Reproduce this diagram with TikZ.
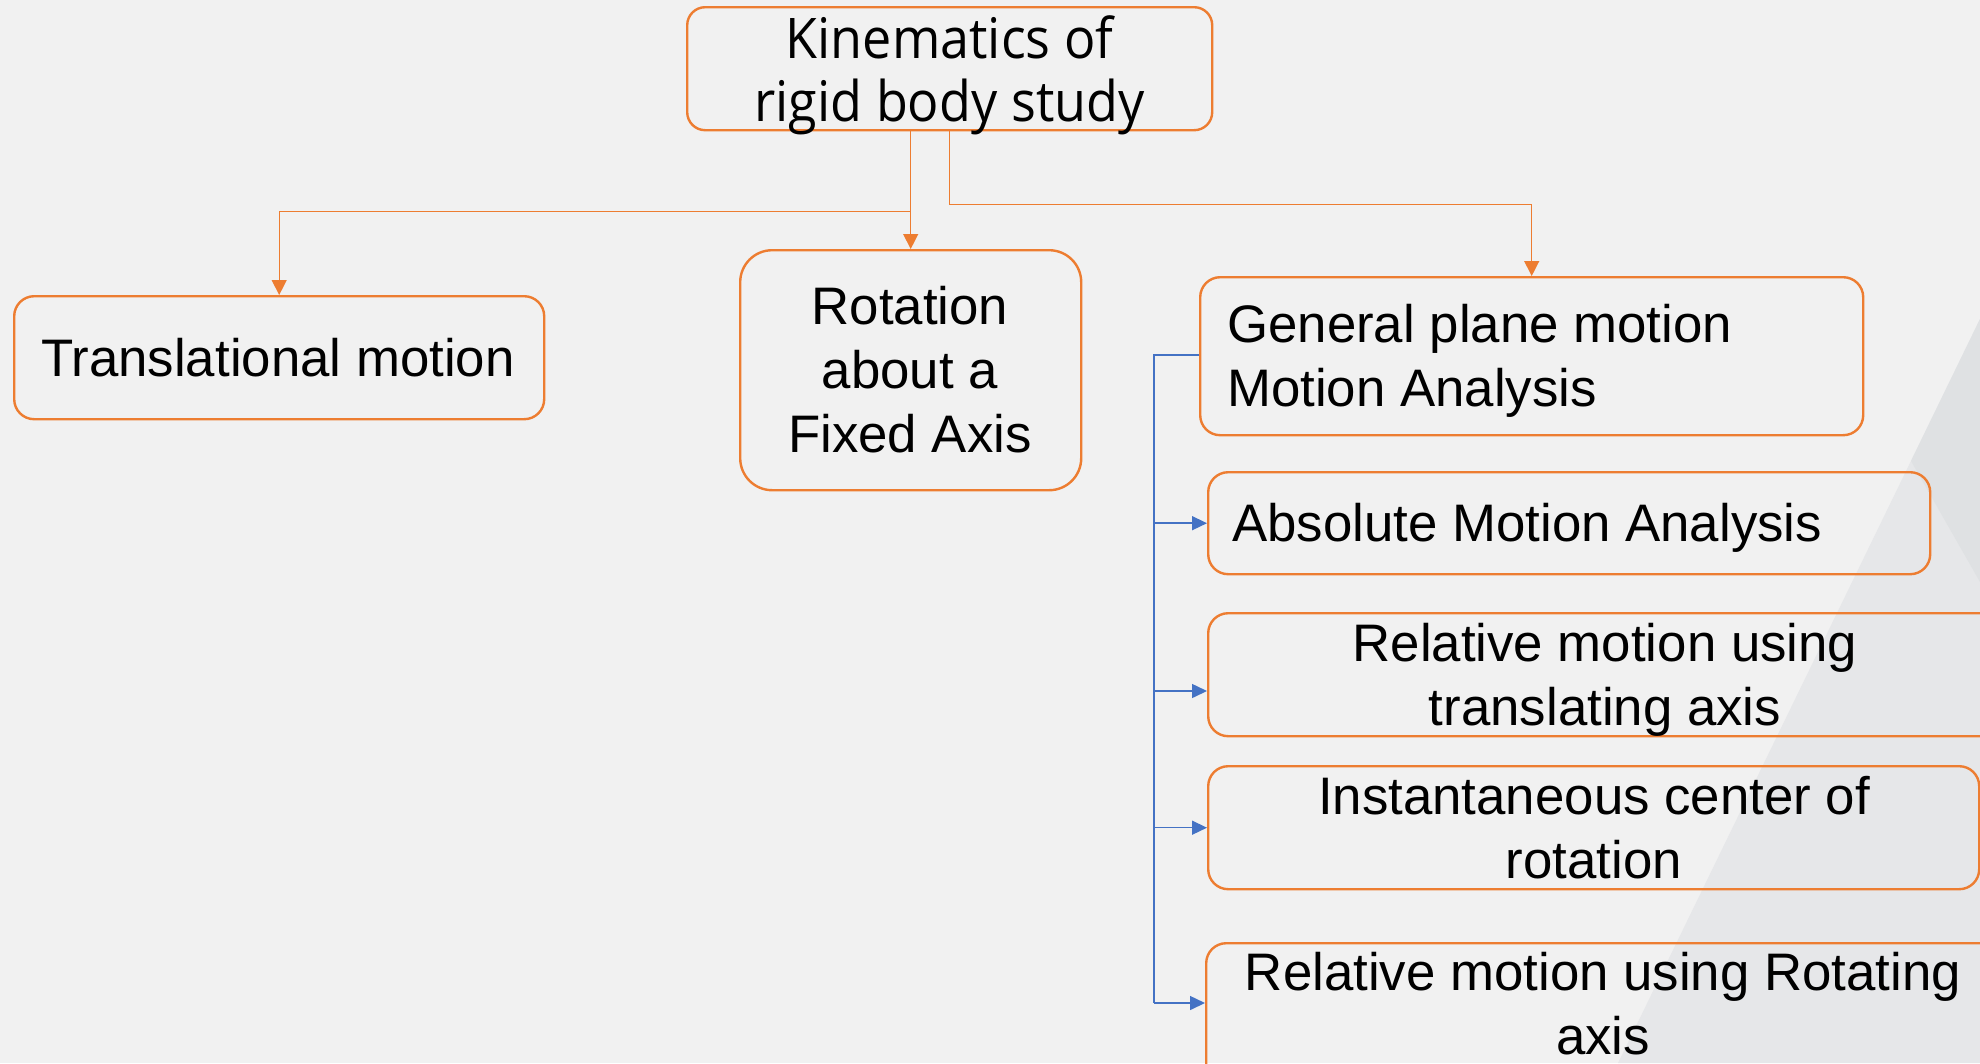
\documentclass[tikz,border=0pt]{standalone}
\usepackage{fontspec}
\setmainfont{Liberation Sans}
\newfontfamily\kinfont[FakeStretch=0.93]{Open Sans}
\usetikzlibrary{arrows.meta}
\definecolor{bg}{HTML}{F1F1F1}
\definecolor{triA}{HTML}{DFE1E3}
\definecolor{triB}{HTML}{E6E7E9}
\definecolor{org}{HTML}{ED7D31}
\definecolor{blu}{HTML}{4472C4}
\begin{document}
\begin{tikzpicture}[x=1pt,y=-1pt,
  box/.style={draw=org, line width=2.4pt, rounded corners=20pt, inner sep=0pt, anchor=north west},
  txt/.style={inner sep=0pt, align=center, font=\fontsize{52.8}{64}\selectfont},
  oline/.style={draw=org, line width=1.3pt},
  oarrow/.style={oline, -{Triangle[length=15pt,width=15pt]}},
  bline/.style={draw=blu, line width=1.5pt},
  barrow/.style={bline, -{Triangle[length=15pt,width=14pt]}}]
% background
\fill[bg] (0,0) rectangle (1980,1063);
\useasboundingbox (0,0) rectangle (1980,1063);
\fill[triB] (1980,319) -- (1618,1063) -- (1980,1063) -- cycle;
\fill[triA] (1980,319) -- (1911,461) -- (1980,582) -- cycle;
% boxes
\node[box, minimum width=525pt, minimum height=123pt, rounded corners=18pt] (top) at (686,6) {};
\node[box, minimum width=530pt, minimum height=123pt] (trans) at (13,295) {};
\node[box, minimum width=341pt, minimum height=240pt, rounded corners=32pt] (rot) at (739,249) {};
\node[box, minimum width=663pt, minimum height=158pt] (gp) at (1199,276) {};
\node[box, minimum width=722pt, minimum height=102pt] (abs) at (1207,471) {};
\node[box, minimum width=900pt, minimum height=123pt] (rtr) at (1207,612) {};
\node[box, minimum width=771pt, minimum height=123pt] (inst) at (1207,765) {};
\node[box, minimum width=900pt, minimum height=160pt] (rrot) at (1205,942) {};
% texts
\node[txt, font=\kinfont\fontsize{56}{63}\selectfont] (topt) at (949.5,75) {Kinematics of\\rigid body study};
\node[txt] (transt) at (278,357.5) {Translational motion};
\node[txt] (rott) at (910,370) {Rotation\\about a\\Fixed Axis};
\node[txt, align=left, anchor=west] (gpt) at (1227,361) {General plane motion\\Motion Analysis};
\node[txt, anchor=west] (abst) at (1232,528) {Absolute Motion Analysis};
\node[txt] (rtrt) at (1605,680) {Relative motion using\\translating axis};
\node[txt] (instt) at (1594,827.5) {Instantaneous center of\\rotation};
\node[txt] (rrott) at (1603,1004) {Relative motion using Rotating\\axis};
% orange connectors
\draw[oarrow] (top.south -| rot.north) -- (rot.north);
\draw[oarrow] (top.south -| rot.north) -- ++(0,80) -| (trans.north);
\draw[oarrow] (top.south) -- ++(0,73) -| (gp.north);
% blue connectors
\coordinate (bt) at (1154,355);
\coordinate (bb) at (1154,1003);
\coordinate (b2) at (1154,691);
\draw[bline] (bt -| gp.west) -- (bt) -- (bb);
\draw[barrow] (bt |- abs.west) -- (abs.west);
\draw[barrow] (b2) -- (b2 -| rtr.west);
\draw[barrow] (bt |- inst.west) -- (inst.west);
\draw[barrow] (bb) -- (bb -| rrot.west);
\end{tikzpicture}
\end{document}
